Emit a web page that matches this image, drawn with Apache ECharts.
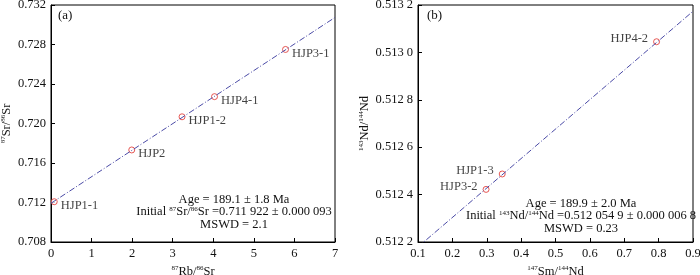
<!DOCTYPE html>
<html><head><meta charset="utf-8">
<script src="https://cdn.jsdelivr.net/npm/echarts@6/dist/echarts.min.js"></script>
<style>html,body{margin:0;padding:0;background:#fff}#c{width:700px;height:275px}</style>
</head><body><div id="c"></div>
<script>
// Panel (a) Rb-Sr
const namesA = ['HJP1-1','HJP2','HJP1-2','HJP4-1','HJP3-1'];
const rbsr = [0.08, 1.99, 3.23, 4.03, 5.78];
const srsr = [0.71208, 0.71732, 0.72068, 0.72272, 0.72750];
const isoA = [[0, 0.711922], [7, 0.73074]];
const xTicksA = ['0','1','2','3','4','5','6','7'];
const yTicksA = ['0.708','0.712','0.716','0.720','0.724','0.728','0.732'];
// Panel (b) Sm-Nd
const namesB = ['HJP4-2','HJP1-3','HJP3-2'];
const smnd = [0.794, 0.345, 0.298];
const ndnd = [0.513045, 0.512487, 0.512422];
const isoB = [[0.1, 0.5121792], [0.9, 0.5131736]];
const xTicksB = ['0.1','0.2','0.3','0.4','0.5','0.6','0.7','0.8','0.9'];
const yTicksB = ['0.512 2','0.512 4','0.512 6','0.512 8','0.513 0','0.513 2'];

const F = 'Liberation Serif, Times New Roman, serif';
const TC = '#111';
const sup = {fontSize: 7, fontFamily: F, color: TC, verticalAlign: 'top', lineHeight: 14};
const n = {fontSize: 12.5, fontFamily: F, color: TC, lineHeight: 14};

function xAx(gi, min, max, interval, ticks, name) {
  return {
    gridIndex: gi, type: 'value', min, max, interval,
    axisLine: {show: true, lineStyle: {color: '#000', width: 1}},
    axisTick: {show: true, inside: true, length: 4, lineStyle: {color: '#000'}},
    splitLine: {show: false},
    axisLabel: {fontFamily: F, fontSize: 12.5, color: TC, margin: 5,
      formatter: (v, i) => ticks[i] !== undefined ? ticks[i] : ''},
    name, nameLocation: 'middle', nameGap: 23,
    nameTextStyle: {rich: {s: sup, n: n}}
  };
}
function yAx(gi, min, max, interval, ticks, name, gap) {
  return {
    gridIndex: gi, type: 'value', min, max, interval,
    axisLine: {show: true, lineStyle: {color: '#000', width: 1}},
    axisTick: {show: true, inside: true, length: 4, lineStyle: {color: '#000'}},
    splitLine: {show: false},
    axisLabel: {fontFamily: F, fontSize: 12.5, color: TC, margin: 5,
      formatter: (v, i) => ticks[i] !== undefined ? ticks[i] : ''},
    name, nameLocation: 'middle', nameGap: gap, nameRotate: 90,
    nameTextStyle: {rich: {s: sup, n: n}}
  };
}
const lineStyle = {color: '#4b4ba6', width: 1, type: [6, 2, 1, 2]};
const itemStyle = {color: '#fff', borderColor: '#e0302a', borderWidth: 1};

const chart = echarts.init(document.getElementById('c'), null, {renderer: 'canvas'});
chart.setOption({
  animation: false,
  grid: [
    {left: 51, right: 365, top: 5, bottom: 33, show: true, borderColor: '#000', borderWidth: 1, outerBoundsMode: 'none', containLabel: false},
    {left: 418, right: 7, top: 5, bottom: 33, show: true, borderColor: '#000', borderWidth: 1, outerBoundsMode: 'none', containLabel: false}
  ],
  xAxis: [
    xAx(0, 0, 7, 1, xTicksA, '{s|87}{n|Rb/}{s|86}{n|Sr}'),
    xAx(1, 0.1, 0.9, 0.1, xTicksB, '{s|147}{n|Sm/}{s|144}{n|Nd}')
  ],
  yAxis: [
    yAx(0, 0.708, 0.732, 0.004, yTicksA, '{s|87}{n|Sr/}{s|86}{n|Sr}', 37),
    yAx(1, 0.5122, 0.5132, 0.0002, yTicksB, '{s|143}{n|Nd/}{s|144}{n|Nd}', 45)
  ],
  series: [
    {type: 'line', xAxisIndex: 0, yAxisIndex: 0, data: isoA, symbol: 'none', lineStyle, silent: true},
    {type: 'line', xAxisIndex: 1, yAxisIndex: 1, data: isoB, symbol: 'none', lineStyle, silent: true},
    {type: 'scatter', xAxisIndex: 0, yAxisIndex: 0, symbol: 'circle', symbolSize: 6, itemStyle,
      data: rbsr.map((x, i) => ({value: [x, srsr[i]], name: namesA[i]})),
      label: {show: true, position: 'right', distance: 3, offset: [0, 4], formatter: p => p.name,
        fontFamily: F, fontSize: 12.5, color: TC}},
    {type: 'scatter', xAxisIndex: 1, yAxisIndex: 1, symbol: 'circle', symbolSize: 6, itemStyle,
      data: smnd.map((x, i) => ({value: [x, ndnd[i]], name: namesB[i]})),
      label: {show: true, position: 'left', distance: 5, offset: [0, -3], formatter: p => p.name,
        fontFamily: F, fontSize: 12.5, color: TC}}
  ],
  graphic: [
    {type: 'text', left: 58, top: 9, style: {text: '(a)', font: '13px ' + F, fill: TC}},
    {type: 'text', left: 427, top: 9, style: {text: '(b)', font: '13px ' + F, fill: TC}},
    {type: 'text', x: 234, y: 193, style: {
      text: '{n|Age = 189.1 ± 1.8 Ma}\n{n|Initial }{s|87}{n|Sr/}{s|86}{n|Sr =0.711 922 ± 0.000 093}\n{n|MSWD = 2.1}',
      align: 'center', rich: {n: {fontSize: 12.5, fontFamily: F, fill: TC, lineHeight: 12.5}, s: {fontSize: 7, fontFamily: F, fill: TC, verticalAlign: 'top', lineHeight: 12.5}}}},
    {type: 'text', x: 581, y: 197, style: {
      text: '{n|Age = 189.9 ± 2.0 Ma}\n{n|Initial }{s|143}{n|Nd/}{s|144}{n|Nd =0.512 054 9 ± 0.000 006 8}\n{n|MSWD = 0.23}',
      align: 'center', rich: {n: {fontSize: 12.5, fontFamily: F, fill: TC, lineHeight: 12.5}, s: {fontSize: 7, fontFamily: F, fill: TC, verticalAlign: 'top', lineHeight: 12.5}}}}
  ]
});
</script></body></html>
